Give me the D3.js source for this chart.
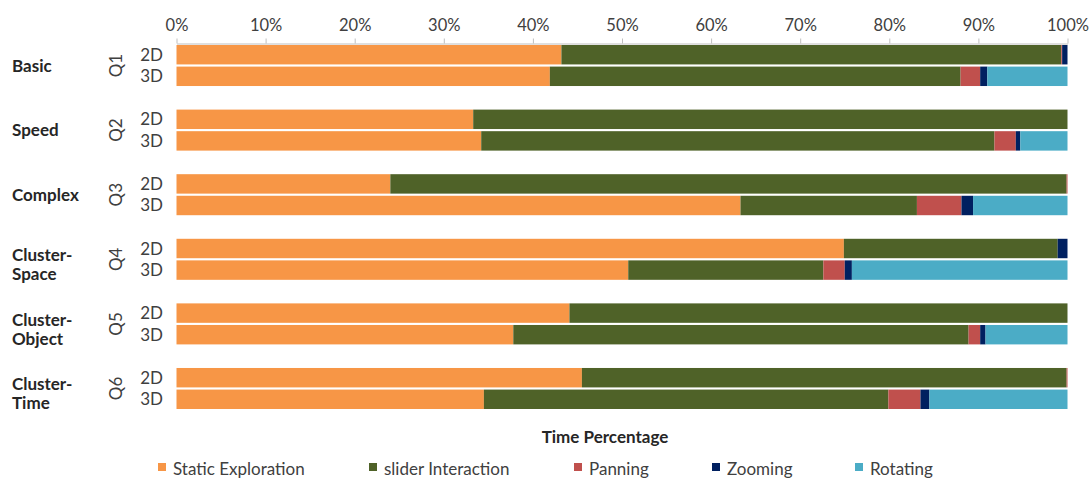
<!DOCTYPE html>
<html><head><meta charset="utf-8">
<script src="https://cdn.jsdelivr.net/npm/d3@7"></script>
<style>
body{margin:0;background:#fff;}
text{font-family:Lato,"Open Sans",sans-serif;}
</style></head>
<body><svg id="c" width="1090" height="479"></svg>
<script>
const categories = ["Basic","Speed","Complex","Cluster-Space","Cluster-Object","Cluster-Time"];
const questions = ["Q1","Q2","Q3","Q4","Q5","Q6"];
const conditions = ["2D","3D"];
const seriesNames = ["Static Exploration","slider Interaction","Panning","Zooming","Rotating"];
// rows: Q1-2D, Q1-3D, Q2-2D, Q2-3D, ... Q6-3D (percent)
const staticExploration = [43.2, 41.9, 33.3, 34.2, 24.0, 63.3, 74.9, 50.7, 44.1, 37.8, 45.5, 34.5];
const sliderInteraction = [56.1, 46.1, 66.7, 57.6, 75.9, 19.8, 24.0, 21.9, 55.9, 51.1, 54.4, 45.4];
const panning           = [0.1, 2.2, 0.0, 2.4, 0.1, 5.0, 0.0, 2.4, 0.0, 1.3, 0.1, 3.6];
const zooming           = [0.6, 0.8, 0.0, 0.5, 0.0, 1.3, 1.1, 0.8, 0.0, 0.6, 0.0, 1.0];
const rotating          = [0.0, 9.0, 0.0, 5.3, 0.0, 10.6, 0.0, 24.2, 0.0, 9.2, 0.0, 15.5];
const tickValues = [0,10,20,30,40,50,60,70,80,90,100];
const colors = ["#F79646","#4F6228","#C0504D","#002060","#4BACC6"];

const svg = d3.select("#c");
const allSeries = [staticExploration, sliderInteraction, panning, zooming, rotating];
const rows = [];
questions.forEach((q,qi)=>conditions.forEach((c,ci)=>{
  const idx = qi*2+ci; const r = {q, c, cat: categories[qi]};
  seriesNames.forEach((s,si)=> r[s] = allSeries[si][idx]);
  rows.push(r);
}));

const x = d3.scaleLinear().domain([0,100]).range([176.5,1067.5]);
const yG = d3.scaleBand().domain(questions).range([45,409]).paddingInner(0.365).paddingOuter(0);
const yC = d3.scaleBand().domain(conditions).range([0,yG.bandwidth()]).paddingInner(0.1);
const color = d3.scaleOrdinal().domain(seriesNames).range(colors);

// axis
const ax = svg.append("g").attr("transform","translate(0,43.5)")
  .call(d3.axisTop(x).tickValues(tickValues).tickFormat(d=>d+"%").tickSize(5).tickSizeOuter(0));
ax.select(".domain").attr("stroke","#BFBFBF");
ax.selectAll(".tick line").attr("stroke","#BFBFBF");
ax.selectAll(".tick text").attr("font-size",16.5).attr("fill","#404040").attr("dy","-5").attr("font-family","Lato, sans-serif");

const stack = d3.stack().keys(seriesNames);
const layers = stack(rows);
svg.append("g").selectAll("g").data(layers).join("g")
  .attr("fill", d=>color(d.key))
  .selectAll("rect").data(d=>d).join("rect")
  .attr("x", d=>x(d[0]))
  .attr("width", d=>Math.max(0, x(d[1])-x(d[0])))
  .attr("y", d=>yG(d.data.q)+yC(d.data.c))
  .attr("height", yC.bandwidth());

// condition labels
svg.append("g").selectAll("text").data(rows).join("text")
  .attr("x",163).attr("y",d=>yG(d.q)+yC(d.c)+yC.bandwidth()/2+6)
  .attr("text-anchor","end").attr("font-size",17).attr("fill","#404040").text(d=>d.c);

// question labels (rotated)
svg.append("g").selectAll("text").data(questions).join("text")
  .attr("transform",q=>`translate(122,${yG(q)+yG.bandwidth()/2}) rotate(-90)`)
  .attr("text-anchor","middle").attr("font-size",17).attr("fill","#404040").text(q=>q);

// category labels
const catG = svg.append("g").selectAll("text").data(categories).join("text")
  .attr("x",12).attr("font-size",17).attr("font-weight","bold").attr("fill","#262626");
catG.each(function(d,i){
  const cy = yG(questions[i])+yG.bandwidth()/2;
  const parts = d.includes("-") ? [d.slice(0,d.indexOf("-")+1), d.slice(d.indexOf("-")+1)] : [d];
  const t = d3.select(this);
  parts.forEach((p,pi)=>{
    t.append("tspan").attr("x",12)
     .attr("y", cy + (parts.length===2 ? (pi===0?2:21) : 6)).text(p);
  });
});

// axis title
svg.append("text").attr("x",605).attr("y",443).attr("text-anchor","middle")
  .attr("font-size",17).attr("font-weight","bold").attr("fill","#262626").text("Time Percentage");

// legend
const legX = [158, 369, 574, 712, 855];
const lg = svg.append("g").selectAll("g").data(seriesNames).join("g")
  .attr("transform",(d,i)=>`translate(${legX[i]},475)`);
lg.append("rect").attr("x",0).attr("y",-12).attr("width",8).attr("height",8).attr("fill",d=>color(d));
lg.append("text").attr("x",15).attr("y",0).attr("font-size",17).attr("fill","#404040").text(d=>d);
</script></body></html>
